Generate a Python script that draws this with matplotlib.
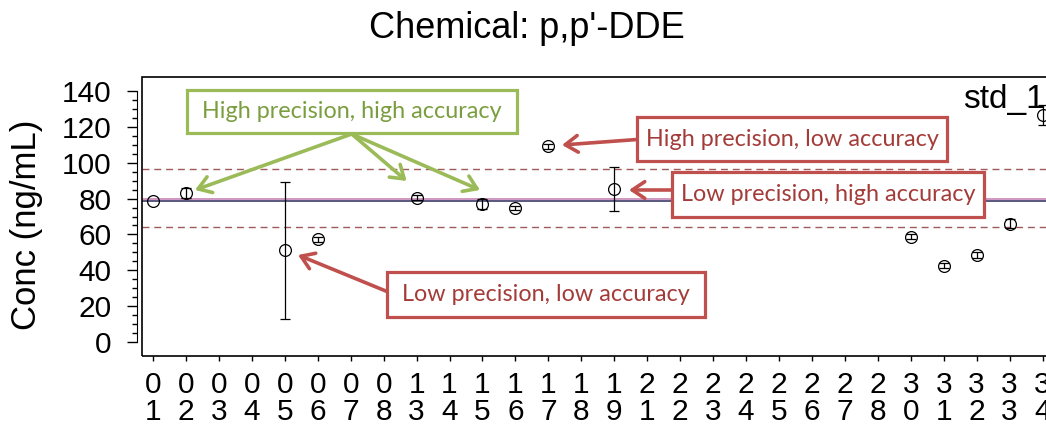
"""Control chart for p,p'-DDE standard runs with precision/accuracy callouts."""

import numpy as np
import matplotlib
matplotlib.use("Agg")
import matplotlib.pyplot as plt
from matplotlib.patches import Rectangle, FancyArrowPatch

# ---- data ----
batches = ["01", "02", "03", "04", "05", "06", "07", "08", "13", "14",
           "15", "16", "17", "18", "19", "21", "22", "23", "24", "25",
           "26", "27", "28", "30", "31", "32", "33", "34"]
conc = [78.6, 83.1, np.nan, np.nan, 51.0, 57.3, np.nan, np.nan, 80.6, np.nan,
        77.0, 74.7, 109.2, np.nan, 85.3, np.nan, np.nan, np.nan, np.nan, np.nan,
        np.nan, np.nan, np.nan, 58.8, 42.6, 48.5, 65.9, 126.9]
conc_err = [np.nan, 2.8, np.nan, np.nan, 38.4, 1.5, np.nan, np.nan, 1.5, np.nan,
            3.0, 1.2, 1.5, np.nan, 12.1, np.nan, np.nan, np.nan, np.nan, np.nan,
            np.nan, np.nan, np.nan, 1.5, 1.5, 1.5, 2.5, 5.5]

ref_value = 79.8      # certified value (pink line)
mean_value = 78.7     # run mean (dark line)
lower_limit = 64.4    # -20 %
upper_limit = 96.3    # +20 %

W, H = 1046, 426
FONT = "Liberation Sans"
NOTE_FONT = "Lato"
RED_EDGE, RED_TEXT = "#C0504D", "#A33C39"
GREEN_EDGE, GREEN_TEXT = "#9BBB59", "#7A9E3F"


def fx(x, y):
    """pixel position (from top-left) -> figure fraction"""
    return (x / W, 1 - y / H)


def callout(fig, text, box, starts, tips, edge, tcolor):
    x0, y0, x1, y1 = box
    fig.add_artist(Rectangle(fx(x0, y1), (x1 - x0) / W, (y1 - y0) / H,
                             transform=fig.transFigure, facecolor="white",
                             edgecolor=edge, linewidth=2.3, zorder=5))
    cx, cy = fx((x0 + x1) / 2, (y0 + y1) / 2)
    fig.text(cx, cy, text, ha="center", va="center", color=tcolor,
             fontsize=16.8, family=NOTE_FONT, zorder=6)
    for s, t in zip(starts, tips):
        fig.add_artist(FancyArrowPatch(fx(*s), fx(*t), transform=fig.transFigure,
                                       arrowstyle="->,head_length=0.45,head_width=0.3",
                                       mutation_scale=20, color=edge, linewidth=2.6,
                                       shrinkA=0, shrinkB=0, zorder=4))


def main():
    fig = plt.figure(figsize=(W / 100, H / 100), dpi=100)
    left, right, top, bottom = 141.5, 1059.0, 77.0, 356.0
    ax = fig.add_axes([left / W, 1 - bottom / H, (right - left) / W, (bottom - top) / H])

    x = np.arange(len(batches))
    ax.axhline(upper_limit, color="#A05A5A", lw=1, ls=(0, (5, 3.5)))
    ax.axhline(lower_limit, color="#A05A5A", lw=1, ls=(0, (5, 3.5)))
    ax.axhline(ref_value, color="#C27BB0", lw=1.1)
    ax.axhline(mean_value, color="#2E2A5C", lw=1.1)
    ax.errorbar(x, conc, yerr=conc_err, fmt="o", mfc="none", mec="black", mew=0.9,
                ms=8.5, ecolor="black", elinewidth=0.9, capsize=3.6, capthick=0.9,
                zorder=3)

    ax.set_xlim(-0.35, 27.5)
    ax.set_ylim(-8, 148)

    # R-style box + detached y axis
    for s in ["top", "right", "bottom"]:
        ax.spines[s].set_visible(False)
    ax.spines["left"].set_position(("outward", 3))
    ax.spines["left"].set_bounds(0, 140)
    ax.add_patch(Rectangle((0, 0), 1, 1, transform=ax.transAxes, fill=False,
                           edgecolor="black", lw=1.2, clip_on=False, zorder=4))

    ax.set_yticks(np.arange(0, 141, 20))
    ax.set_yticks(np.arange(0, 141, 5), minor=True)
    ax.tick_params(axis="y", which="major", length=7.5, width=1, pad=11, labelsize=21.5)
    ax.tick_params(axis="y", which="minor", length=3.8, width=1)
    ax.set_xticks(x)
    ax.set_xticklabels(["\n".join(b) for b in batches], linespacing=0.95)
    ax.tick_params(axis="x", length=3.5, width=1, pad=7.5, labelsize=21.5)
    for lab in ax.get_xticklabels() + ax.get_yticklabels():
        lab.set_family(FONT)

    fig.text(*fx(526.5, 28), "Chemical: p,p'-DDE", ha="center", va="center",
             fontsize=26, family=FONT)
    fig.text(*fx(27, 225), "Conc (ng/mL)", ha="center", va="center",
             rotation=90, fontsize=25, family=FONT)
    fig.text(*fx(963, 108), "std_1", ha="left", va="baseline", fontsize=24, family=FONT)

    callout(fig, "High precision, high accuracy", (186.5, 89.5, 516.5, 133),
            [(351.7, 134)] * 3, [(195, 190), (406.7, 181), (480, 190)],
            GREEN_EDGE, GREEN_TEXT)
    callout(fig, "High precision, low accuracy", (637, 117, 947, 161),
            [(637, 139.5)], [(562, 145)], RED_EDGE, RED_TEXT)
    callout(fig, "Low precision, high accuracy", (672, 172, 984, 217),
            [(672, 190)], [(629, 190)], RED_EDGE, RED_TEXT)
    callout(fig, "Low precision, low accuracy", (387, 272, 705, 317),
            [(387, 291.5)], [(298, 255)], RED_EDGE, RED_TEXT)

    fig.savefig("out.png", dpi=100)


if __name__ == "__main__":
    main()
